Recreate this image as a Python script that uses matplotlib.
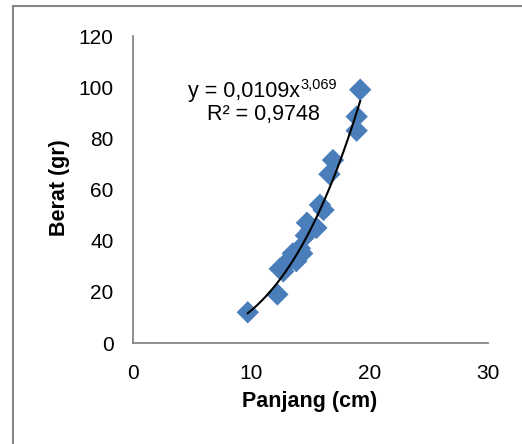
import numpy as np
import matplotlib
matplotlib.use("Agg")
import matplotlib.pyplot as plt
from matplotlib.lines import Line2D

plt.rcParams['font.family'] = ['Liberation Sans', 'DejaVu Sans']

# panjang (cm) dan berat (gr)
panjang = [9.7, 12.2, 12.4, 12.7, 13.0, 13.3, 13.5, 13.8, 14.1, 14.3, 14.6, 14.7,
           15.0, 15.5, 15.8, 16.1, 16.6, 16.9, 18.9, 18.9, 19.2]
berat = [12, 19, 29, 28, 31, 33, 35, 32, 37, 35, 42, 47,
         44, 45, 54, 52, 66, 71.5, 88.5, 83, 99]
koef_a = 0.0109
koef_b = 3.069
r2_text = "R² = 0,9748"

W, H = 522, 444
fig = plt.figure(figsize=(W / 100, H / 100), dpi=100)
ax = fig.add_axes([133 / W, 1 - 343 / H, (488 - 133) / W, (343 - 36) / H])

ax.scatter(panjang, berat, marker='D', s=130, color='#4a7ebb', edgecolors='none', zorder=2)

xs = np.linspace(min(panjang), max(panjang), 200)
ax.plot(xs, koef_a * xs ** koef_b, color='black', lw=1.5, zorder=3)

ax.set_xlim(0, 30)
ax.set_ylim(0, 120)
ax.set_xticks([0, 10, 20, 30])
ax.set_yticks(range(0, 121, 20))
ax.tick_params(axis='y', length=0, labelsize=15, pad=14)
ax.tick_params(axis='x', length=0, labelsize=15, pad=15)
for s in ['top', 'right']:
    ax.spines[s].set_visible(False)
for s in ['left', 'bottom']:
    ax.spines[s].set_color('#868686')
    ax.spines[s].set_linewidth(1.3)

fig.text(60 / W, 1 - 188 / H, "Berat (gr)", rotation=90, ha='center', va='center',
         fontsize=15.5, fontweight='bold')
fig.text(310 / W, 1 - 401 / H, "Panjang (cm)", ha='center', va='center',
         fontsize=15.5, fontweight='bold')

fig.text(300 / W, 1 - 97 / H, "y = 0,0109x", ha='right', va='baseline', fontsize=15.5)
fig.text(300 / W, 1 - 89 / H, "3,069", ha='left', va='baseline', fontsize=10.5)
fig.text(263 / W, 1 - 114 / H, r2_text, ha='center', va='center', fontsize=15.5)

# outer chart border (left and top only visible)
fig.add_artist(Line2D([13 / W, 13 / W], [0, 1 - 6 / H], transform=fig.transFigure,
                      color='#868686', lw=1.5))
fig.add_artist(Line2D([13 / W, 1], [1 - 6 / H, 1 - 6 / H], transform=fig.transFigure,
                      color='#868686', lw=1.5))

fig.savefig("out.png", dpi=100)
